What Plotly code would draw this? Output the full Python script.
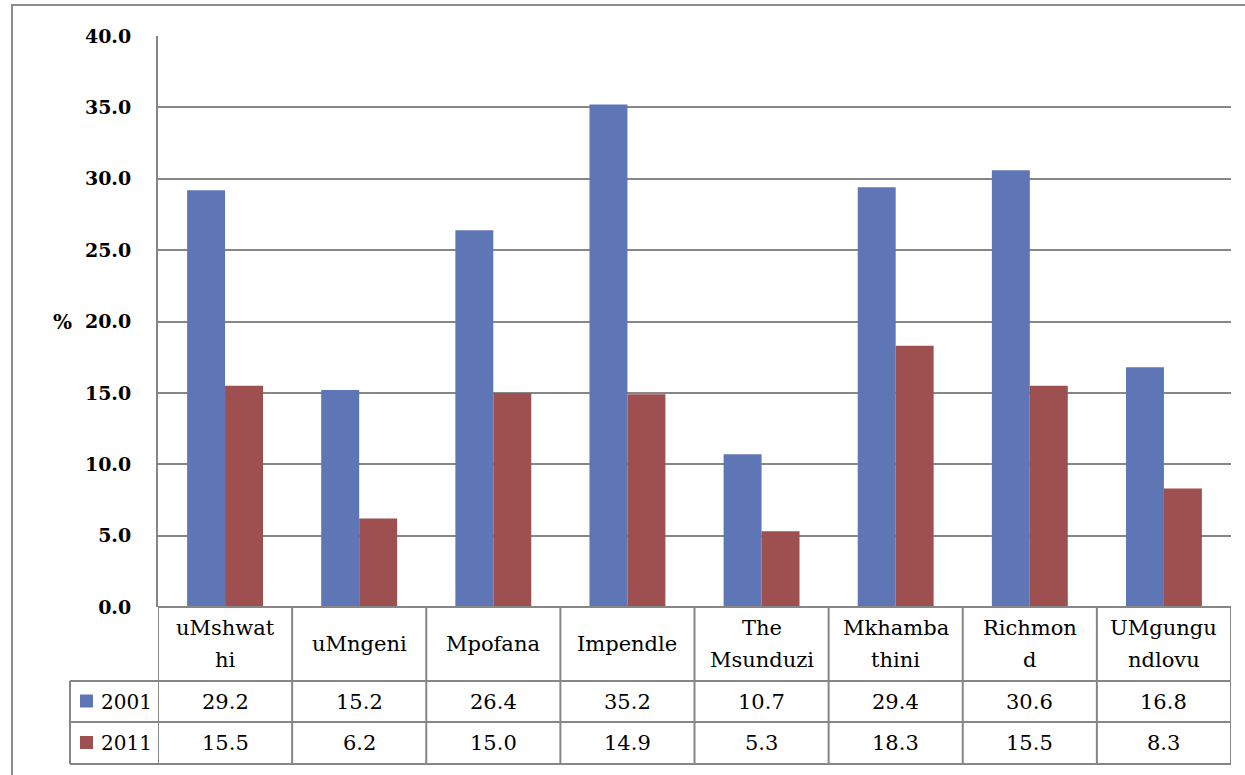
import plotly.graph_objects as go

# Municipalities (line breaks as they wrap in the table header)
categories = ["uMshwat<br>hi", "uMngeni", "Mpofana", "Impendle", "The<br>Msunduzi",
              "Mkhamba<br>thini", "Richmon<br>d", "UMgungu<br>ndlovu"]
series_names = ["2001", "2011"]
values_2001 = [29.2, 15.2, 26.4, 35.2, 10.7, 29.4, 30.6, 16.8]
values_2011 = [15.5, 6.2, 15.0, 14.9, 5.3, 18.3, 15.5, 8.3]
y_ticks = [0, 5, 10, 15, 20, 25, 30, 35, 40]

BLUE = "#5F76B6"
RED = "#9E4F50"
GRID = "#868686"
FONT = "DejaVu Serif"

W, H = 1245, 775
L, R, T, B = 158, 1231, 36, 607
n = len(categories)
x_idx = list(range(n))


def py(pix):
    """Pixel row -> paper y."""
    return (B - pix) / (B - T)


def px(pix):
    """Pixel column -> paper x."""
    return (pix - L) / (R - L)


fig = go.Figure()
fig.add_trace(go.Bar(x=x_idx, y=values_2001, name=series_names[0], marker_color=BLUE,
                     marker_line_width=0))
fig.add_trace(go.Bar(x=x_idx, y=values_2011, name=series_names[1], marker_color=RED,
                     marker_line_width=0))

shapes = []
annotations = []

# outer chart frame
shapes.append(dict(type="rect", xref="paper", yref="paper",
                   x0=px(12), x1=px(W + 5), y0=py(5), y1=py(W + 40),
                   line=dict(color="#8C8C8C", width=2), fillcolor="rgba(0,0,0,0)", layer="below"))

# data table geometry
row_cat_top, row_a_top, row_b_top, table_bot = B, 681, 722, 764
legend_left = 70

# horizontal lines of the table
for yy in [row_a_top, row_b_top, table_bot]:
    shapes.append(dict(type="line", xref="paper", yref="paper", x0=px(legend_left), x1=1,
                       y0=py(yy), y1=py(yy), line=dict(color=GRID, width=2)))
shapes.append(dict(type="line", xref="paper", yref="paper", x0=0, x1=1,
                   y0=0, y1=0, line=dict(color=GRID, width=2)))
# vertical lines of the table
for i in range(n + 1):
    shapes.append(dict(type="line", xref="x", yref="paper", x0=i - 0.5, x1=i - 0.5,
                       y0=0, y1=py(table_bot), line=dict(color=GRID, width=2)))
shapes.append(dict(type="line", xref="paper", yref="paper", x0=px(legend_left), x1=px(legend_left),
                   y0=py(row_a_top), y1=py(table_bot), line=dict(color=GRID, width=2)))

# category header cells, one annotation per wrapped line
LINE_GAP = 32
cat_mid = (row_cat_top + row_a_top) / 2
for i, c in enumerate(categories):
    lines = c.split("<br>")
    first = cat_mid - LINE_GAP * (len(lines) - 1) / 2
    for k, part in enumerate(lines):
        annotations.append(dict(x=i, y=py(first + k * LINE_GAP), xref="x", yref="paper",
                                text=part, showarrow=False,
                                font=dict(family=FONT, size=21, color="black"),
                                xanchor="center", yanchor="middle"))

# value rows with legend keys
for name, vals, color, top, bot in [(series_names[0], values_2001, BLUE, row_a_top, row_b_top),
                                     (series_names[1], values_2011, RED, row_b_top, table_bot)]:
    yc = (top + bot) / 2
    shapes.append(dict(type="rect", xref="paper", yref="paper", x0=px(80), x1=px(93),
                       y0=py(yc - 7), y1=py(yc + 6), fillcolor=color, line=dict(width=0)))
    annotations.append(dict(x=px(99), y=py(yc), xref="paper", yref="paper", text=name,
                            showarrow=False, xanchor="left", yanchor="middle",
                            font=dict(family=FONT, size=20, color="black")))
    for i, v in enumerate(vals):
        annotations.append(dict(x=i, y=py(yc), xref="x", yref="paper", text=f"{v:.1f}",
                                showarrow=False, xanchor="center", yanchor="middle",
                                font=dict(family=FONT, size=21, color="black")))

# y axis title
annotations.append(dict(x=px(62), y=py(322), xref="paper", yref="paper", text="<b>%</b>",
                        showarrow=False, xanchor="center", yanchor="middle",
                        font=dict(family=FONT, size=20, color="black")))

fig.update_layout(
    width=W, height=H,
    margin=dict(l=L, r=W - R, t=T, b=H - B, pad=0),
    paper_bgcolor="white", plot_bgcolor="white",
    barmode="group", bargap=0.434, bargroupgap=0,
    showlegend=False,
    shapes=shapes, annotations=annotations,
    xaxis=dict(range=[-0.5, n - 0.5], showticklabels=False, showgrid=False, zeroline=False,
               showline=False, ticks=""),
    yaxis=dict(range=[0, 40], tickvals=y_ticks, ticktext=[f"<b>{v:.1f}</b>" for v in y_ticks],
               showgrid=True, gridcolor=GRID, gridwidth=2, zeroline=False,
               showline=True, linecolor=GRID, linewidth=2, ticks="",
               ticklabelstandoff=21, tickfont=dict(family=FONT, size=19, color="black")),
)

fig.write_html("out.html")
